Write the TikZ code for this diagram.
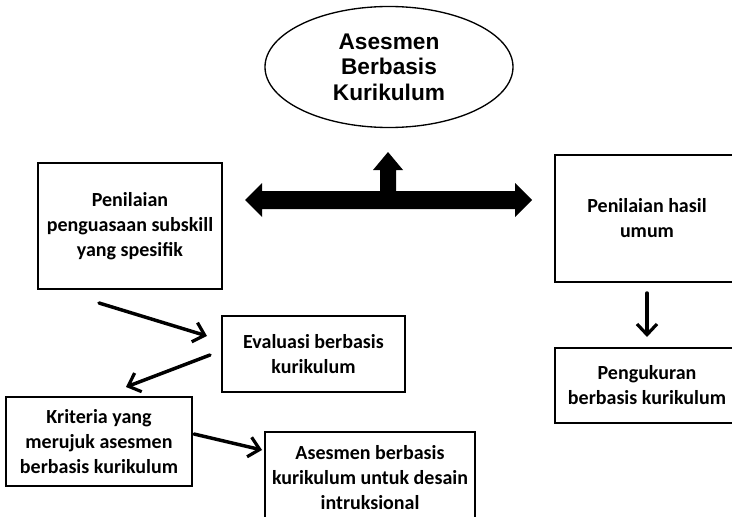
\documentclass[tikz,border=0pt]{standalone}
\usepackage{fontspec}
\setmainfont{Carlito}
\newfontfamily\arialfont{Liberation Sans}
\usetikzlibrary{arrows.meta,shapes.geometric,calc}
\begin{document}
\begin{tikzpicture}[x=0.75pt,y=-0.75pt,
  box/.style={draw,line width=1.4pt,inner sep=0pt,align=center,
    font=\fontsize{15pt}{18.75pt}\selectfont\bfseries},
  conn/.style={line width=2.6pt,line cap=round,-{Straight Barb[length=8pt,width=15pt,line width=2.4pt]}}]
\useasboundingbox (0,0) rectangle (732,517);
% ellipse
\node[draw,ellipse,line width=1pt,minimum width={248*0.75pt},minimum height={121*0.75pt},inner sep=0pt,align=center,
  font=\arialfont\fontsize{17pt}{19.2pt}\selectfont\bfseries] (top) at (389,67) {Asesmen\\Berbasis\\Kurikulum};
% big arrow
\coordinate (hub) at (388,200);
\fill ($(hub)+(-143,0)$) -- ++(17,-17) -- ++(0,8) -- ($(hub)+(-8,-9)$) -- ++(0,-21) -- ++(-7,0) -- ($(hub)+(0,-48)$)
  -- ($(hub)+(15,-30)$) -- ++(-7,0) -- ++(0,21) -- ($(hub)+(127,-9)$) -- ++(0,-8) -- ($(hub)+(144,0)$)
  -- ($(hub)+(127,17)$) -- ++(0,-8) -- ($(hub)+(-126,9)$) -- ++(0,8) -- cycle;
% boxes
\node[box,minimum width={184*0.75pt},minimum height={126*0.75pt}] (b1) at (130,226) {Penilaian\\penguasaan subskill\\yang spesifik};
\node[box,minimum width={183*0.75pt},minimum height={76*0.75pt}] (b2) at (313.5,354) {Evaluasi berbasis\\kurikulum};
\node[box,minimum width={186*0.75pt},minimum height={89*0.75pt}] (b3) at (99,441.5) {Kriteria yang\\merujuk asesmen\\berbasis kurikulum};
\node[box,minimum width={210*0.75pt},minimum height={92*0.75pt}] (b4) at (370,478) {Asesmen berbasis\\kurikulum untuk desain\\intruksional};
\node[box,minimum width={184*0.75pt},minimum height={127*0.75pt}] (b5) at (647,218.5) {Penilaian hasil\\umum};
\node[box,minimum width={184*0.75pt},minimum height={75*0.75pt}] (b6) at (647,385.5) {Pengukuran\\berbasis kurikulum};
% connectors
\coordinate (c1s) at (99,303); \coordinate (c1e) at (207,336);
\coordinate (c2s) at (210,355); \coordinate (c2e) at (126,387);
\coordinate (c3s) at (194,434); \coordinate (c3e) at (262,450);
\coordinate (c4s) at (647,293); \coordinate (c4e) at (647,337);
\draw[conn] (c1s) -- (c1e);
\draw[conn] (c2s) -- (c2e);
\draw[conn] (c3s) -- (c3e);
\draw[conn] (c4s) -- (c4e);
\end{tikzpicture}
\end{document}
